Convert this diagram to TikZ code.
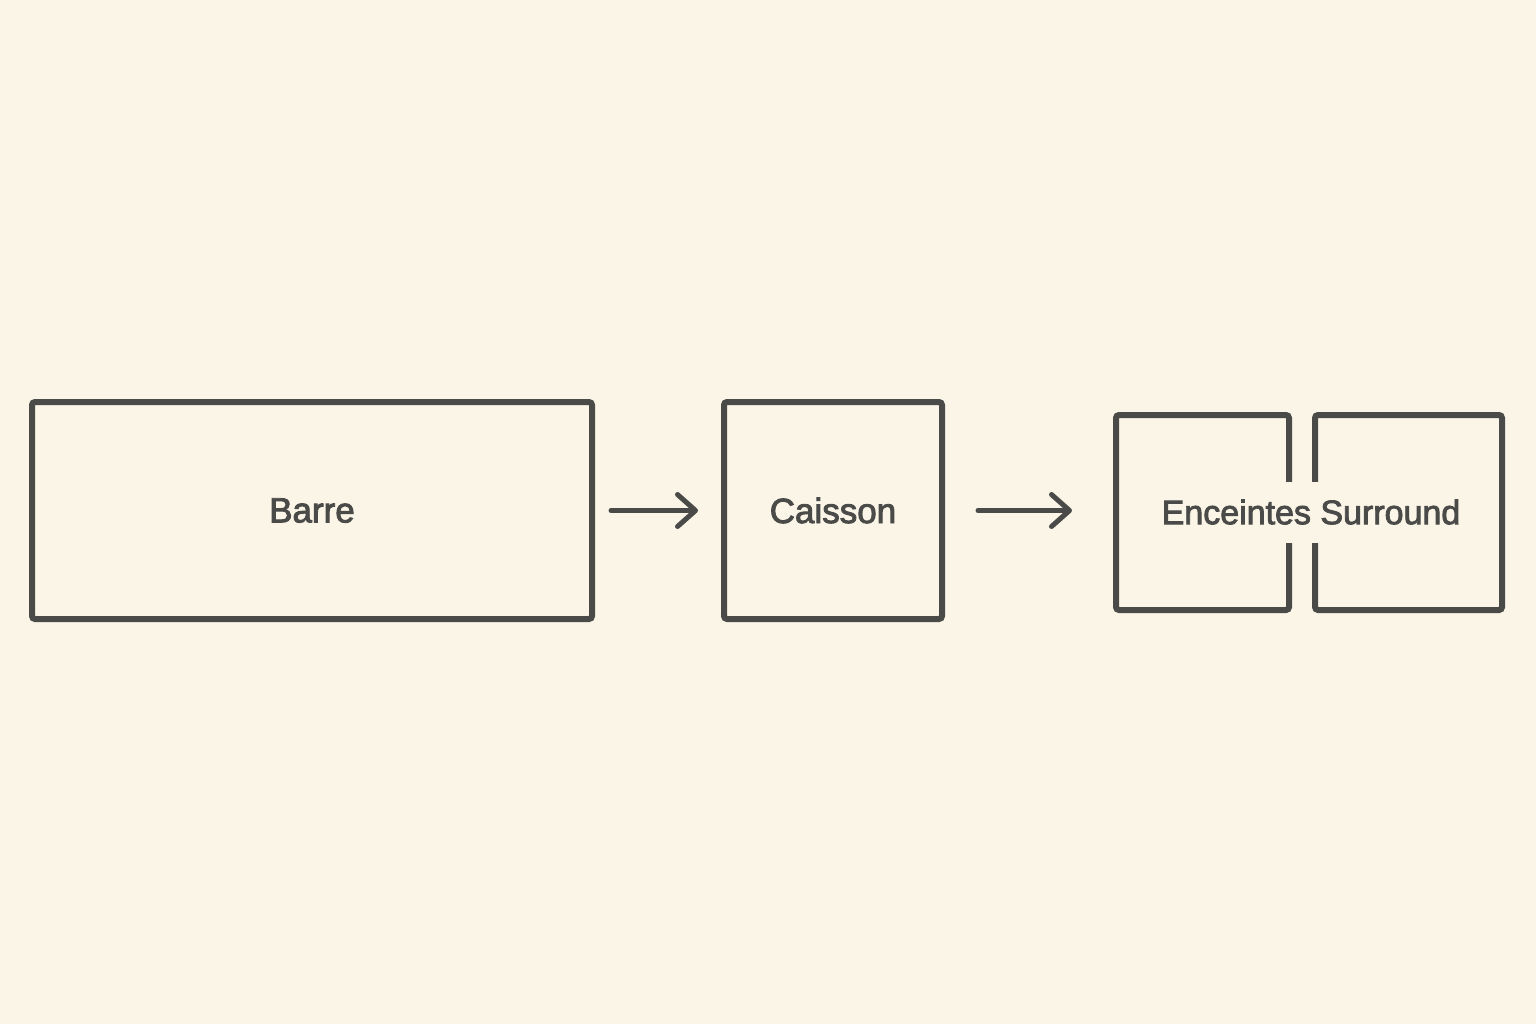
\documentclass[tikz,border=0pt]{standalone}
\usepackage{fontspec}
\usepackage{tikz}
\usetikzlibrary{positioning}
\usetikzlibrary{arrows.meta}
\newfontfamily\boxfont[FakeBold=2.5]{Liberation Sans}
\definecolor{paper}{RGB}{251,245,232}
\definecolor{ink}{RGB}{74,74,72}
\begin{document}
\begin{tikzpicture}[x=0.5pt,y=-0.5pt,
  box/.style={draw=ink,line width=3pt,rounded corners=1.5pt,inner sep=0pt,text=ink,font=\boxfont\fontsize{17.5}{20}\selectfont},
  flow/.style={draw=ink,line width=2.5pt,line cap=round,-{Straight Barb[length=9pt,width=16pt,round]}}]
  \fill[paper] (0,0) rectangle (1536,1024);
  \node[box,minimum width=280pt,minimum height=108.5pt] (barre) at (312,510.5) {Barre};
  \node[box,minimum width=109pt,minimum height=108.5pt,right=63pt of barre] (caisson) {Caisson};
  \node[box,minimum width=86.5pt,minimum height=97.5pt,right=84pt of caisson,yshift=-1pt] (encl) {};
  \node[box,minimum width=93.5pt,minimum height=97.5pt,right=10pt of encl] (encr) {};
  \node[fill=paper,text=ink,inner sep=0pt,minimum height=30.5pt,font=\boxfont\fontsize{17}{20}\selectfont] (surround) at (1311,512) {Enceintes Surround};
  \draw[flow,shorten <=8pt,shorten >=11.5pt](barre.east)--(caisson.west);
  \draw[flow,shorten <=16.5pt,shorten >=20.5pt](caisson.east)--(caisson.east -| encl.west);
\end{tikzpicture}
\end{document}
